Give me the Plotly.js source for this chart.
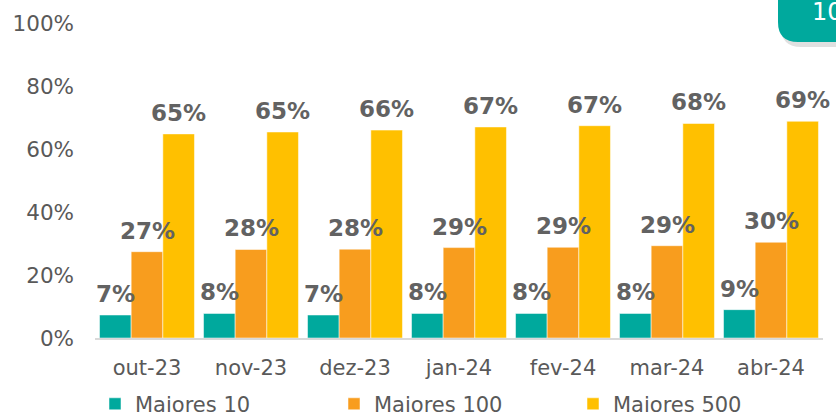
<!DOCTYPE html>
<html>
<head>
<meta charset="utf-8">
<script src="https://cdn.plot.ly/plotly-3.0.1.min.js"></script>
<style>html,body{margin:0;padding:0;background:#fff;}#chart{width:836px;height:418px;}</style>
</head>
<body>
<div id="chart"></div>
<script>
var categories = ["out-23", "nov-23", "dez-23", "jan-24", "fev-24", "mar-24", "abr-24"];
var seriesNames = ["Maiores 10", "Maiores 100", "Maiores 500"];
var maiores10 = [7.3, 7.8, 7.3, 7.8, 7.8, 7.8, 9.0];
var maiores100 = [27.4, 28.1, 28.2, 28.7, 28.8, 29.3, 30.4];
var maiores500 = [64.8, 65.4, 66.0, 67.0, 67.4, 68.1, 68.8];
var yTickVals = [0, 20, 40, 60, 80, 100];
var badgeText = "10";

var colors = ["#00A99D", "#F89D1E", "#FFC000"];
var values = [maiores10, maiores100, maiores500];
var bargap = 0.087;
var barW = (1 - bargap) / values.length;

var traces = values.map(function (v, k) {
  return {
    type: "bar",
    name: seriesNames[k],
    x: categories,
    y: v,
    marker: { color: colors[k], line: { color: "rgba(255,255,255,0.5)", width: 1 } },
    hoverinfo: "none"
  };
});

var labelAnnotations = [];
values.forEach(function (v, k) {
  v.forEach(function (val, i) {
    labelAnnotations.push({
      text: Math.round(val) + "%",
      xref: "x", yref: "y",
      x: i + (k - (values.length - 1) / 2) * barW,
      y: val,
      yshift: 6,
      xanchor: "center", yanchor: "bottom",
      showarrow: false,
      font: { family: "DejaVu Sans", size: 23, color: "#626262", weight: "bold" }
    });
  });
});

labelAnnotations.push({
  text: badgeText,
  xref: "paper", yref: "paper",
  x: 1, y: 1,
  xshift: -13, yshift: 11,
  xanchor: "left", yanchor: "middle",
  showarrow: false,
  font: { family: "DejaVu Sans", size: 24, color: "#ffffff" }
});

var layout = {
  width: 836,
  height: 418,
  margin: { l: 95, r: 13, t: 22.5, b: 80, autoexpand: false },
  paper_bgcolor: "#ffffff",
  plot_bgcolor: "#ffffff",
  barmode: "group",
  bargap: bargap,
  bargroupgap: 0,
  font: { family: "DejaVu Sans", color: "#595959" },
  xaxis: {
    type: "category",
    range: [-0.5, categories.length - 0.5],
    showgrid: false,
    showline: true,
    linecolor: "#d9d9d9",
    linewidth: 2,
    ticks: "",
    tickfont: { family: "DejaVu Sans", size: 21, color: "#595959" },
    ticklabelstandoff: 10,
    zeroline: false
  },
  yaxis: {
    range: [0, 100],
    tickvals: yTickVals,
    ticktext: yTickVals.map(function (t) { return t + "%"; }),
    showgrid: false,
    zeroline: false,
    showline: false,
    ticks: "",
    tickfont: { family: "DejaVu Sans", size: 21.5, color: "#595959" },
    ticklabelstandoff: 20
  },
  showlegend: true,
  legend: {
    orientation: "h",
    x: 0.0,
    xanchor: "left",
    y: -0.21,
    yanchor: "middle",
    font: { family: "DejaVu Sans", size: 21, color: "#595959" },
    entrywidth: 194,
    traceorder: "normal"
  },
  shapes: [
    {
      type: "path",
      xref: "paper", yref: "paper",
      xsizemode: "pixel", ysizemode: "pixel",
      xanchor: 1, yanchor: 1,
      path: "M -42,40 L -42,-4 Q -42,-24 -22,-24 L 40,-24 L 40,40 Z",
      fillcolor: "rgba(0,0,0,0.12)",
      line: { width: 0 },
      layer: "below"
    },
    {
      type: "path",
      xref: "paper", yref: "paper",
      xsizemode: "pixel", ysizemode: "pixel",
      xanchor: 1, yanchor: 1,
      path: "M -45,40 L -45,1 Q -45,-19 -25,-19 L 40,-19 L 40,40 Z",
      fillcolor: "#00A99D",
      line: { width: 0 },
      layer: "above"
    }
  ],
  annotations: labelAnnotations
};

Plotly.newPlot("chart", traces, layout, { displayModeBar: false, staticPlot: true });
</script>
</body>
</html>
